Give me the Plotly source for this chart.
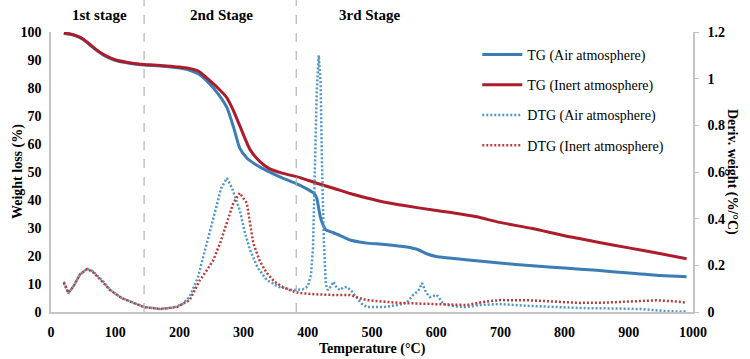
import plotly.graph_objects as go

# ---------------- data ----------------
tg_air_T = [20, 30, 40, 50, 60, 70, 80, 90, 100, 120, 140, 160, 180, 200, 215, 230, 245, 260, 274, 285, 294,
            305, 320, 336, 360, 383, 400, 410, 414, 417, 420, 424, 428, 440, 455, 466, 480, 492, 520, 554, 570,
            585, 600, 620, 650, 699, 750, 800, 850, 900, 950, 990]
tg_air_W = [99.5, 99.2, 98.5, 97.3, 95.5, 93.6, 92.0, 90.8, 89.9, 88.9, 88.3, 88.0, 87.7, 87.1, 86.4, 85.0, 82.0,
            78.0, 73.0, 65.5, 58.5, 55.0, 52.5, 50.5, 47.9, 45.8, 43.8, 42.3, 40.6, 37.0, 33.5, 31.0, 29.3, 28.3,
            26.8, 25.7, 25.0, 24.6, 24.1, 23.2, 22.4, 20.8, 19.8, 19.3, 18.6, 17.5, 16.5, 15.7, 14.9, 13.9, 13.0, 12.6]

tg_inert_T = [20, 30, 40, 50, 60, 70, 80, 90, 100, 120, 140, 160, 180, 200, 215, 230, 243, 260, 274, 284, 295,
              310, 325, 340, 360, 388, 414, 440, 466, 492, 520, 550, 595, 630, 663, 699, 750, 800, 850, 900, 950, 990]
tg_inert_W = [99.6, 99.3, 98.6, 97.5, 95.7, 93.8, 92.2, 91.0, 90.1, 89.1, 88.5, 88.2, 87.9, 87.5, 87.0, 86.0, 83.5,
              80.0, 76.5, 72.0, 66.0, 58.0, 53.8, 51.2, 49.6, 48.0, 46.0, 44.2, 42.3, 40.7, 39.2, 38.0, 36.4, 35.3,
              34.0, 32.0, 29.8, 27.2, 25.0, 22.9, 20.8, 19.0]

dtg_air_T = [20, 27, 35, 45, 56, 65, 80, 92, 110, 128, 145, 170, 190, 205, 216, 229, 240, 253, 265, 274, 282, 294,
             302, 310, 322, 336, 355, 377, 392, 400, 405, 408, 411, 414, 417, 420, 422, 425, 428, 431, 436, 440, 445,
             450, 455, 461, 468, 476, 484, 492, 518, 540, 554, 564, 572, 578, 584, 590, 596, 601, 606, 611, 630, 646,
             668, 700, 746, 790, 824, 880, 917, 940, 960, 990]
dtg_air_D = [0.13, 0.08, 0.11, 0.16, 0.185, 0.175, 0.135, 0.095, 0.06, 0.04, 0.022, 0.013, 0.018, 0.035, 0.065,
             0.15, 0.27, 0.41, 0.53, 0.574, 0.53, 0.437, 0.34, 0.266, 0.19, 0.137, 0.108, 0.094, 0.097, 0.11, 0.16,
             0.27, 0.6, 0.95, 1.10, 0.98, 0.65, 0.3, 0.12, 0.094, 0.11, 0.13, 0.105, 0.094, 0.105, 0.107, 0.09,
             0.064, 0.035, 0.021, 0.021, 0.03, 0.039, 0.073, 0.09, 0.124, 0.085, 0.064, 0.07, 0.073, 0.055, 0.034,
             0.024, 0.021, 0.03, 0.034, 0.026, 0.02, 0.017, 0.015, 0.013, 0.008, 0.003, 0.002]

dtg_inert_T = [20, 27, 35, 45, 56, 65, 80, 92, 110, 128, 145, 170, 196, 216, 232, 243, 253, 264, 274, 284, 294,
               305, 315, 325, 336, 348, 361, 375, 388, 410, 440, 466, 480, 492, 520, 544, 595, 648, 673, 699, 746,
               790, 824, 860, 886, 920, 943, 970, 990]
dtg_inert_D = [0.125, 0.082, 0.11, 0.16, 0.184, 0.172, 0.13, 0.094, 0.06, 0.039, 0.021, 0.013, 0.021, 0.051,
               0.137, 0.18, 0.223, 0.3, 0.38, 0.467, 0.51, 0.467, 0.296, 0.22, 0.167, 0.13, 0.107, 0.09, 0.081,
               0.076, 0.073, 0.073, 0.06, 0.051, 0.044, 0.039, 0.034, 0.03, 0.043, 0.051, 0.05, 0.044, 0.039,
               0.04, 0.043, 0.048, 0.05, 0.046, 0.04]

stage_labels = ["1st stage", "2nd Stage", "3rd Stage"]
stage_label_T = [75, 265, 497]
stage_bounds_T = [145, 382]

x_ticks = list(range(0, 1001, 100))
y_ticks = list(range(0, 101, 10))
y2_ticks = [0, 0.2, 0.4, 0.6, 0.8, 1.0, 1.2]

# ---------------- styling ----------------
FONT = "Liberation Serif"
C_AIR = "#3b7db4"
C_INERT = "#ac1c2b"
C_AIR_DOT = "#4f97c6"
C_INERT_DOT = "#bd3a3a"
AXIS_C = "#c4c4c4"
L, R, T, B = 51, 57, 32, 47
PW, PH = 750 - L - R, 359 - T - B

fig = go.Figure()
fig.add_trace(go.Scatter(x=tg_air_T, y=tg_air_W, mode="lines", name="TG (Air atmosphere)",
                         line=dict(color=C_AIR, width=3, shape="spline", smoothing=0.6), legendgroup="a"))
fig.add_trace(go.Scatter(x=tg_inert_T, y=tg_inert_W, mode="lines", name="TG (Inert atmosphere)",
                         line=dict(color=C_INERT, width=3, shape="spline", smoothing=0.6), legendgroup="b"))
fig.add_trace(go.Scatter(x=dtg_air_T, y=dtg_air_D, mode="lines", name="DTG (Air atmosphere)", yaxis="y2",
                         line=dict(color=C_AIR_DOT, width=2.5, dash="2px,2px"), legendgroup="c"))
fig.add_trace(go.Scatter(x=dtg_inert_T, y=dtg_inert_D, mode="lines", name="DTG (Inert atmosphere)", yaxis="y2",
                         line=dict(color=C_INERT_DOT, width=2.5, dash="2px,2px"), legendgroup="d"))

for t in stage_bounds_T:
    fig.add_shape(type="line", xref="x", yref="paper", x0=t, x1=t, y0=0, y1=1 + T / PH,
                  line=dict(color="#b5b5b5", width=1.2, dash="dash"))

annotations = []
for lab, t in zip(stage_labels, stage_label_T):
    annotations.append(dict(x=t, y=1 + 17 / PH, xref="x", yref="paper", yanchor="middle",
                            text="<b>%s</b>" % lab,
                            showarrow=False, font=dict(family=FONT, size=15, color="black")))
annotations.append(dict(x=(8 - L) / PW, y=0.5, xref="paper", yref="paper", text="<b>Weight loss (%)</b>",
                        textangle=-90, showarrow=False, font=dict(family=FONT, size=14, color="black")))
annotations.append(dict(x=1.0 + 49 / PW, y=0.5, xref="paper", yref="paper", text="<b>Deriv. weight (%/°C)</b>",
                        textangle=90, showarrow=False, font=dict(family=FONT, size=14, color="black")))
annotations.append(dict(x=0.5, y=-37 / PH, xref="paper", yref="paper", yanchor="middle",
                        text="<b>Temperature (°C)</b>",
                        showarrow=False, font=dict(family=FONT, size=14, color="black")))

tickfont = dict(family=FONT, size=14, color="black", weight="bold")

fig.update_layout(
    width=750, height=359,
    margin=dict(l=L, r=R, t=T, b=B, autoexpand=False),
    plot_bgcolor="white", paper_bgcolor="white",
    showlegend=True,
    legend=dict(x=0.664, y=0.975, xanchor="left", yanchor="top", bgcolor="rgba(0,0,0,0)",
                font=dict(family=FONT, size=14, color="black"), tracegroupgap=9, itemwidth=40),
    xaxis=dict(range=[0, 1000], tickvals=x_ticks, showgrid=False, zeroline=False, showline=True,
               linecolor=AXIS_C, linewidth=1.5, ticks="", tickfont=tickfont, ticklabelstandoff=6,
               automargin=False),
    yaxis=dict(range=[0, 100], tickvals=y_ticks, showgrid=False, zeroline=False, showline=True,
               linecolor=AXIS_C, linewidth=1.5, ticks="", tickfont=tickfont, ticklabelstandoff=5,
               automargin=False),
    yaxis2=dict(range=[0, 1.2], tickvals=y2_ticks, overlaying="y", side="right", showgrid=False,
                zeroline=False, showline=True, linecolor=AXIS_C, linewidth=1.5, ticks="outside",
                ticklen=4, tickcolor=AXIS_C, tickfont=tickfont, ticklabelstandoff=6, automargin=False),
    annotations=annotations,
)

fig.write_html("out.html", config={"displayModeBar": False},
               post_script="document.body.style.margin='0';document.body.style.padding='0';")
